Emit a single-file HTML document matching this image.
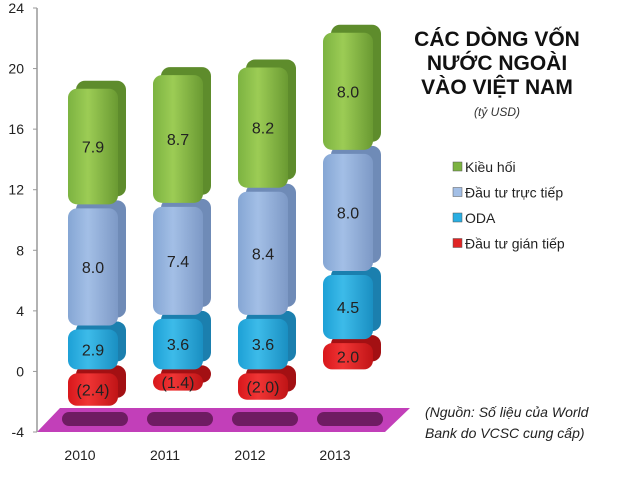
<!DOCTYPE html>
<html><head><meta charset="utf-8"><style>
body{margin:0;background:#fff;width:620px;height:476px;overflow:hidden;font-family:"Liberation Sans",sans-serif}
</style></head><body>
<svg id="chart" width="620" height="476" xmlns="http://www.w3.org/2000/svg" font-family="Liberation Sans, sans-serif">
<defs>
<linearGradient id="gGreen" x1="0" x2="1"><stop offset="0" stop-color="#7cb341"/><stop offset="0.4" stop-color="#9ccc55"/><stop offset="1" stop-color="#6a9a32"/></linearGradient>
<linearGradient id="gBlue" x1="0" x2="1"><stop offset="0" stop-color="#85a6d4"/><stop offset="0.4" stop-color="#a3bfe6"/><stop offset="1" stop-color="#7d99c6"/></linearGradient>
<linearGradient id="gCyan" x1="0" x2="1"><stop offset="0" stop-color="#1da0d6"/><stop offset="0.4" stop-color="#3dbbe9"/><stop offset="1" stop-color="#1a8fc2"/></linearGradient>
<linearGradient id="gRed" x1="0" x2="1"><stop offset="0" stop-color="#d8171b"/><stop offset="0.4" stop-color="#f03535"/><stop offset="1" stop-color="#c01416"/></linearGradient>
</defs>
<g id="floor"></g>
<g id="axis"></g>
<g id="bars"></g>
<g font-weight="bold" font-size="21" text-anchor="middle" fill="#111">
<text x="497" y="46">CÁC DÒNG VỐN</text>
<text x="497" y="70">NƯỚC NGOÀI</text>
<text x="497" y="94">VÀO VIỆT NAM</text>
</g>
<text x="497" y="116" font-size="12" font-style="italic" text-anchor="middle" fill="#333">(tỷ USD)</text>
<g id="legend"></g>
<g font-size="14" font-style="italic" fill="#222">
<text x="425" y="417">(Nguồn: Số liệu của World</text>
<text x="425" y="438">Bank do VCSC cung cấp)</text>
</g>
</svg>
<script>
const years = ["2010","2011","2012","2013"];
const remit = [7.9, 8.7, 8.2, 8.0];
const fdi = [8.0, 7.4, 8.4, 8.0];
const oda = [2.9, 3.6, 3.6, 4.5];
const portfolio = [-2.4, -1.4, -2.0, 2.0];
const yTicks = [-4, 0, 4, 8, 12, 16, 20, 24];
const seriesNames = ["Kiều hối","Đầu tư trực tiếp","ODA","Đầu tư gián tiếp"];

const NS="http://www.w3.org/2000/svg";
const y0=8, yMax=24, yMin=-4, plotH=424;
function yS(v){return y0+(yMax-v)*plotH/(yMax-yMin);}
function xS(i){return 68+i*85;}
const bw=50, dx=8, dy=8;
function mk(tag,attrs,parent){const e=document.createElementNS(NS,tag);for(const k in attrs)e.setAttribute(k,attrs[k]);parent.appendChild(e);return e;}

const axis=document.getElementById('axis');
const ax=mk('line',{x1:37,y1:yS(yMax),x2:37,y2:yS(yMin),stroke:'#999','stroke-width':1.5},axis);


yTicks.forEach(t=>{
  const tk=mk('line',{x1:33,x2:37,y1:yS(t),y2:yS(t),stroke:'#999'},axis);
  
  
  const tx=mk('text',{x:24,y:yS(t)+5,'font-size':14,'text-anchor':'end',fill:'#222'},axis);
  tx.textContent=t;
  
  
});

const floor=document.getElementById('floor');
const fl=mk('polygon',{points:`37,${yS(-4)} 60,${yS(-4)-24} 410,${yS(-4)-24} 385,${yS(-4)}`,fill:'#c23fb9'},floor);



const bars=document.getElementById('bars');
const colors=[['url(#gGreen)','#5e8c2c'],['url(#gBlue)','#6f8bb7'],['url(#gCyan)','#1b7fae'],['url(#gRed)','#a31013']];
function seg(i,lo,hi,c,label,name){
  const x=xS(i), top=yS(hi)+2, bot=yS(lo)-2;
  const g=mk('g',{},bars);
  
  
  mk('rect',{x:x+dx,y:top-dy,width:bw,height:Math.max(bot-top,4),rx:9,fill:c[1]},g);
  mk('rect',{x:x,y:top,width:bw,height:Math.max(bot-top,4),rx:9,fill:c[0]},g);
  const t=mk('text',{x:x+bw/2,y:(top+bot)/2+6,'font-size':16,'text-anchor':'middle',fill:'#222'},g);
  t.textContent=label;
}
function fmt(v){return v<0?'('+Math.abs(v).toFixed(1)+')':v.toFixed(1);}
years.forEach((yr,i)=>{
  const x=xS(i);
  const sh=mk('rect',{x:x-6,y:yS(-4)-20,width:66,height:14,rx:7,fill:'#6e1c62'},floor);
  
  
  let base=0;
  if(portfolio[i]<0){seg(i,portfolio[i],0,colors[3],fmt(portfolio[i]),'bar-portfolio-'+yr);}
  else{seg(i,0,portfolio[i],colors[3],fmt(portfolio[i]),'bar-portfolio-'+yr);base=portfolio[i];}
  seg(i,base,base+oda[i],colors[2],fmt(oda[i]),'bar-oda-'+yr);base+=oda[i];
  seg(i,base,base+fdi[i],colors[1],fmt(fdi[i]),'bar-fdi-'+yr);base+=fdi[i];
  seg(i,base,base+remit[i],colors[0],fmt(remit[i]),'bar-remittance-'+yr);
  const lt=mk('text',{x:x+12,y:460,'font-size':14,'text-anchor':'middle',fill:'#222'},axis);
  lt.textContent=yr;
  
  
});

const legend=document.getElementById('legend');
const lc=['#7cb341','#a3bfe6','#29aee2','#e02424'];
seriesNames.forEach((n,k)=>{
  const g=mk('g',{},legend);
  
  
  const yy=172+k*25.5;
  mk('rect',{x:453,y:yy-10,width:9,height:9,fill:lc[k],stroke:'#555','stroke-width':0.5},g);
  const t=mk('text',{x:465,y:yy,'font-size':14,fill:'#222'},g);
  t.textContent=n;
});
</script>
</body></html>
